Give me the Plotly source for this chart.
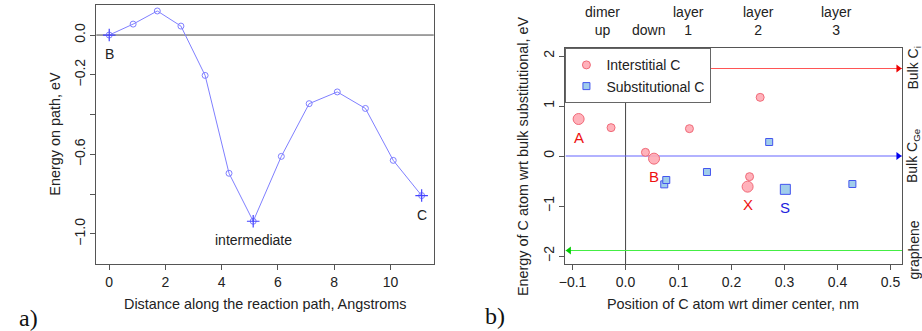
import plotly.graph_objects as go

# ---------------- Panel a: reaction path ----------------
path_dist = [0.0, 0.85, 1.71, 2.55, 3.41, 4.26, 5.12, 6.12, 7.11, 8.11, 9.11, 10.10, 11.11]
path_energy = [0.0, 0.055, 0.121, 0.045, -0.203, -0.695, -0.936, -0.610, -0.345, -0.286, -0.369, -0.630, -0.807]
path_marked = [0, 6, 12]
path_labels = ["B", "intermediate", "C"]
a_xticks = [0, 2, 4, 6, 8, 10]
a_yticks = [0.0, -0.2, -0.6, -1.0]
a_yticktext = ["0.0", "−0.2", "−0.6", "−1.0"]
a_yminor = [-0.4, -0.8]

# ---------------- Panel b: C positions ----------------
int_x = [-0.0274, 0.0375, 0.1205, 0.254, 0.234]
int_y = [0.567, 0.073, 0.547, 1.173, -0.413]
int_key_x = [-0.0886, 0.0537, 0.2303]
int_key_y = [0.74, -0.053, -0.613]
int_key_labels = ["A", "B", "X"]
sub_x = [0.073, 0.0768, 0.1536, 0.271, 0.428]
sub_y = [-0.567, -0.48, -0.32, 0.28, -0.56]
sub_key_x = [0.3015]
sub_key_y = [-0.667]
sub_key_labels = ["S"]
ref_levels = [1.75, 0.0, -1.89]
ref_labels = ["Bulk C<sub>i</sub>", "Bulk C<sub>Ge</sub>", "graphene"]
ref_dirs = ["right", "right", "left"]
site_x = [-0.0436, 0.043, 0.119, 0.25, 0.398]
site_labels = ["dimer<br>up", "down", "layer<br>1", "layer<br>2", "layer<br>3"]
b_xticks = [-0.1, 0.0, 0.1, 0.2, 0.3, 0.4, 0.5]
b_xticktext = ["−0.1", "0.0", "0.1", "0.2", "0.3", "0.4", "0.5"]
b_yticks = [-2, -1, 0, 1, 2]
b_yticktext = ["−2", "−1", "0", "1", "2"]

W, H = 922, 331
FONT = "Liberation Sans, Arial, sans-serif"
AX = "#555555"
TXT = "#222222"

a_xr = [-0.459, 11.54]
a_yr = [-1.151, 0.151]
b_xr = [-0.1135, 0.5225]
b_yr = [-2.16, 2.154]

def px(v):
    return v / W

def py(v):
    return 1 - v / H

fig = go.Figure()

# Panel a traces
path_color = "#7f7fff"
fig.add_trace(go.Scatter(x=path_dist, y=path_energy, mode="lines+markers",
                         line=dict(color=path_color, width=1),
                         marker=dict(symbol="circle-open", size=6, color=path_color, line=dict(width=1)),
                         xaxis="x", yaxis="y", showlegend=False))
fig.add_trace(go.Scatter(x=[path_dist[i] for i in path_marked], y=[path_energy[i] for i in path_marked],
                         mode="markers",
                         marker=dict(symbol="cross-thin-open", size=9, color="#4444ff", line=dict(width=1.2, color="#4444ff")),
                         xaxis="x", yaxis="y", showlegend=False))

# Panel b reference arrows
arrow_line = ["#ff5555", "#6666ff", "#44ee44"]
arrow_head = ["#ee0000", "#0000ee", "#00cc00"]
x_lo = b_xr[0]
x_hi = b_xr[1]
for lvl, d, lc, hc in zip(ref_levels, ref_dirs, arrow_line, arrow_head):
    fig.add_trace(go.Scatter(x=[x_lo, x_hi], y=[lvl, lvl], mode="lines",
                             line=dict(color=lc, width=1.2), xaxis="x2", yaxis="y2",
                             showlegend=False, hoverinfo="skip"))
    hx = x_hi - 0.008 if d == "right" else x_lo + 0.007
    fig.add_trace(go.Scatter(x=[hx], y=[lvl], mode="markers",
                             marker=dict(symbol="triangle-right" if d == "right" else "triangle-left",
                                         size=7, color=hc),
                             xaxis="x2", yaxis="y2", showlegend=False, hoverinfo="skip"))

int_fill = "rgba(255,170,180,0.9)"
int_edge = "#f06a78"
sub_fill = "rgba(160,205,235,1)"
sub_edge = "#4455ee"

fig.add_trace(go.Scatter(x=int_x, y=int_y, mode="markers", name="Interstitial C",
                         marker=dict(symbol="circle", size=8, color=int_fill, line=dict(color=int_edge, width=1)),
                         xaxis="x2", yaxis="y2"))
fig.add_trace(go.Scatter(x=int_key_x, y=int_key_y, mode="markers", showlegend=False,
                         marker=dict(symbol="circle", size=11, color=int_fill, line=dict(color=int_edge, width=1)),
                         xaxis="x2", yaxis="y2"))
fig.add_trace(go.Scatter(x=sub_x, y=sub_y, mode="markers", name="Substitutional C",
                         marker=dict(symbol="square", size=7, color=sub_fill, line=dict(color=sub_edge, width=1)),
                         xaxis="x2", yaxis="y2"))
fig.add_trace(go.Scatter(x=sub_key_x, y=sub_key_y, mode="markers", showlegend=False,
                         marker=dict(symbol="square", size=10, color=sub_fill, line=dict(color=sub_edge, width=1)),
                         xaxis="x2", yaxis="y2"))

ann = []
def note(**kw):
    kw.setdefault("xanchor", "center")
    kw.setdefault("yanchor", "middle")
    kw.setdefault("showarrow", False)
    ann.append(kw)

# Panel a point labels
for i, lab in zip(path_marked, path_labels):
    note(x=path_dist[i], y=path_energy[i], xref="x", yref="y", text=lab,
         yshift=-19, font=dict(family=FONT, size=14, color=TXT))
# Panel b point labels
for x, y, lab in zip(int_key_x, int_key_y, int_key_labels):
    note(x=x, y=y, xref="x2", yref="y2", text=lab, yshift=-18,
         font=dict(family=FONT, size=15, color="#ee1111"))
for x, y, lab in zip(sub_key_x, sub_key_y, sub_key_labels):
    note(x=x, y=y, xref="x2", yref="y2", text=lab, yshift=-18,
         font=dict(family=FONT, size=15, color="#2222dd"))
# top site labels
for x, lab in zip(site_x, site_labels):
    note(x=x, y=py(40), xref="x2", yref="paper", text=lab, yanchor="bottom",
         font=dict(family=FONT, size=14, color=TXT))
# right reference labels
for lvl, lab in zip(ref_levels, ref_labels):
    note(x=px(913), y=lvl, xref="paper", yref="y2", text=lab, textangle=-90,
         font=dict(family=FONT, size=14, color=TXT))
# axis titles
TITLE = dict(family=FONT, size=14.4, color=TXT)
note(x=px(260), y=py(304), xref="paper", yref="paper",
     text="Distance along the reaction path, Angstroms", font=TITLE)
note(x=px(48), y=py(134), xref="paper", yref="paper", textangle=-90,
     text="Energy on path, eV", font=TITLE)
note(x=px(732), y=py(304), xref="paper", yref="paper",
     text="Position of C atom wrt dimer center, nm", font=TITLE)
note(x=px(520), y=py(156), xref="paper", yref="paper", textangle=-90,
     text="Energy of C atom wrt bulk substitutional, eV", font=TITLE)
# panel letters
note(x=px(22), y=py(318), xref="paper", yref="paper", text="a)",
     font=dict(family="Liberation Serif, DejaVu Serif, serif", size=24, color="#111"))
note(x=px(492), y=py(316), xref="paper", yref="paper", text="b)",
     font=dict(family="Liberation Serif, DejaVu Serif, serif", size=24, color="#111"))

shapes = [
    dict(type="line", xref="x domain", yref="y", x0=0, x1=1, y0=0, y1=0, line=dict(color="#444", width=1), layer="below"),
    dict(type="line", xref="x2", yref="y2 domain", x0=0, x1=0, y0=0, y1=1, line=dict(color="#444", width=1), layer="below"),
]

tickfont = dict(family=FONT, size=14, color=TXT)
common = dict(showline=True, linecolor=AX, linewidth=1, mirror=True, ticks="outside", ticklen=5,
              tickcolor=AX, showgrid=False, zeroline=False, tickfont=tickfont)

fig.update_layout(
    width=W, height=H, margin=dict(l=0, r=0, t=0, b=0),
    paper_bgcolor="white", plot_bgcolor="white",
    font=dict(family=FONT, size=14, color=TXT),
    annotations=ann, shapes=shapes,
    xaxis=dict(domain=[px(90), px(430)], range=a_xr, tickvals=a_xticks, anchor="y", **common),
    yaxis=dict(domain=[py(264), py(5)], range=a_yr, tickvals=a_yticks, ticktext=a_yticktext,
               tickangle=-90, anchor="x",
               minor=dict(tickvals=a_yminor, ticks="outside", ticklen=5, tickcolor=AX, showgrid=False),
               **common),
    xaxis2=dict(domain=[px(562.7), px(902.3)], range=b_xr, tickvals=b_xticks, ticktext=b_xticktext,
                anchor="y2", **common),
    yaxis2=dict(domain=[py(264), py(48.3)], range=b_yr, tickvals=b_yticks, ticktext=b_yticktext,
                tickangle=-90, anchor="x2", **common),
    xaxis3=dict(overlaying="x2", side="top", anchor="y2", range=b_xr, tickvals=site_x,
                showticklabels=False, ticks="outside", ticklen=5, tickcolor=AX,
                showgrid=True, gridcolor="#cccccc", griddash="dot", gridwidth=1, zeroline=False),
    yaxis3=dict(overlaying="y2", side="right", anchor="x2", range=b_yr, tickvals=ref_levels,
                showticklabels=False, ticks="outside", ticklen=5, tickcolor=AX,
                showgrid=False, zeroline=False),
    legend=dict(x=px(562.7), y=py(48.3), xanchor="left", yanchor="top", bgcolor="white",
                bordercolor="#666", borderwidth=1, font=dict(family=FONT, size=14, color=TXT),
                itemwidth=30, tracegroupgap=0),
)

fig.write_html("out.html", config={"displayModeBar": False},
               post_script="document.body.style.margin='0px';document.body.style.overflow='hidden';")
